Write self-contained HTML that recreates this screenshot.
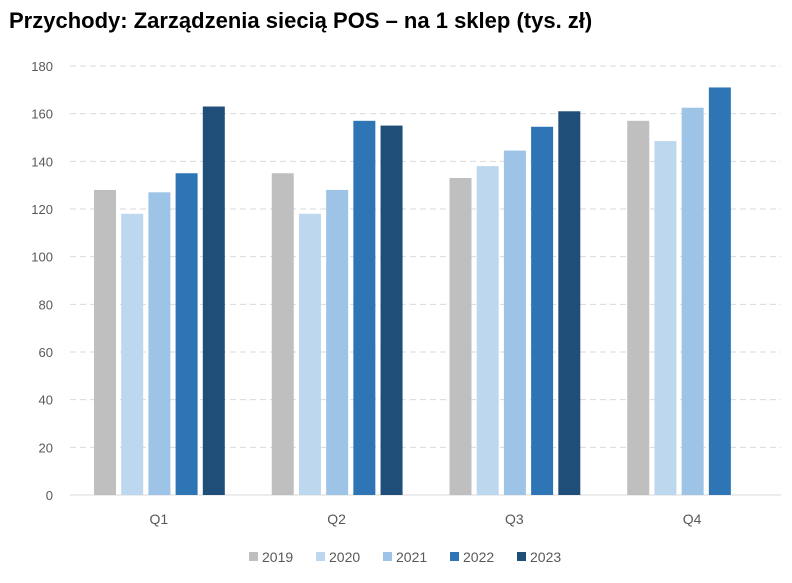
<!DOCTYPE html>
<html><head><meta charset="utf-8"><style>
body{margin:0;background:#fff;font-family:"Liberation Sans",sans-serif;}
#wrap{position:relative;width:792px;height:583px;overflow:hidden;}
h1{position:absolute;left:9px;top:8px;margin:0;font-size:22px;font-weight:bold;color:#000;white-space:nowrap;}
</style></head><body>
<div id="wrap">
<h1>Przychody: Zarządzenia siecią POS – na 1 sklep (tys. zł)</h1>
<svg id="chart" width="792" height="583" style="position:absolute;left:0;top:0"></svg>
</div>
<script>
const categories=["Q1","Q2","Q3","Q4"];
const seriesNames=["2019","2020","2021","2022","2023"];
const colors=["#bfbfbf","#bdd7ee","#9dc3e6","#2e75b6","#1f4e79"];
const s2019=[128,135,133,157];
const s2020=[118,118,138,148.5];
const s2021=[127,128,144.5,162.5];
const s2022=[135,157,154.5,171];
const s2023=[163,155,161,null];
const yTicks=[0,20,40,60,80,100,120,140,160,180];
const series=[s2019,s2020,s2021,s2022,s2023];
const NS="http://www.w3.org/2000/svg";
const svg=document.getElementById('chart');
const x0=70,x1=781,y0=495,yTop=66,yMax=180;
const catW=(x1-x0)/categories.length;
const y=v=>y0-(v/yMax)*(y0-yTop);
function mk(t,a){const e=document.createElementNS(NS,t);for(const k in a)e.setAttribute(k,a[k]);svg.appendChild(e);return e;}
yTicks.forEach(t=>{
 if(t>0){const l=mk('line',{x1:x0,x2:x1,y1:y(t),y2:y(t),stroke:'#d9d9d9','stroke-dasharray':'6,4'});
 
 }
 const tx=mk('text',{x:53,y:y(t)+5,'text-anchor':'end','font-size':'13',fill:'#595959','font-family':'Liberation Sans, sans-serif'});
 tx.textContent=t;
 
 
});
const ax=mk('line',{x1:x0,x2:x1,y1:y0,y2:y0,stroke:'#d9d9d9'});


categories.forEach((c,i)=>{
 const cs=x0+i*catW;
 series.forEach((s,j)=>{
  const v=s[i]; if(v==null) return;
  const r=mk('rect',{x:cs+24+j*27.2,y:y(v),width:22,height:y0-y(v),fill:colors[j]});
  
  
 });
 const t=mk('text',{x:cs+catW/2,y:524,'text-anchor':'middle','font-size':'14',fill:'#595959','font-family':'Liberation Sans, sans-serif'});
 t.textContent=c;
 
 
});
const lx=[249,316,383,450,517];
seriesNames.forEach((n,j)=>{
 const r=mk('rect',{x:lx[j],y:552,width:9,height:9,fill:colors[j]});
 
 
 const t=mk('text',{x:lx[j]+13,y:562,'font-size':'14',fill:'#595959','font-family':'Liberation Sans, sans-serif'});
 t.textContent=n;
 
 
});
</script>
</body></html>
